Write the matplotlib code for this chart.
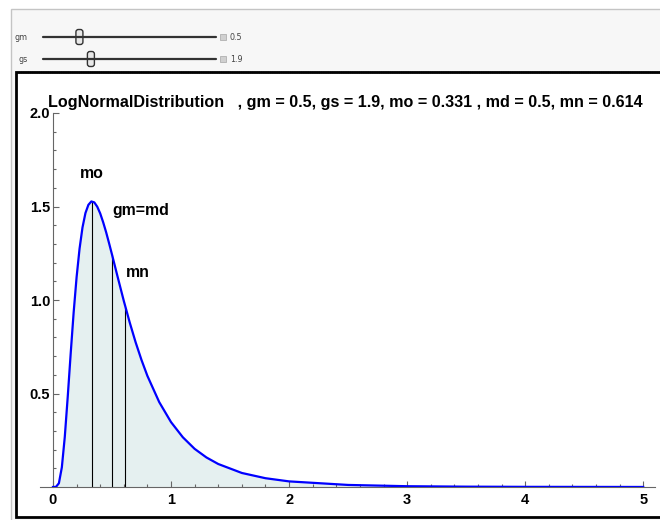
import matplotlib
matplotlib.use("Agg")
import matplotlib.pyplot as plt
from matplotlib.patches import Rectangle, FancyBboxPatch
from matplotlib.ticker import MultipleLocator, FixedLocator

plt.rcParams['font.family'] = ['Liberation Sans', 'DejaVu Sans']

# slider parameters
gm = 0.5
gs = 1.9
gm_range = (0.1, 2.0)
gs_range = (1.0, 4.25)

# summary statistics
mo = 0.331
md = 0.5
mn = 0.614

# density curve samples
xs = [0, 0.025, 0.05, 0.075, 0.1, 0.125, 0.15, 0.175, 0.2, 0.225, 0.25, 0.275,
      0.3, 0.325, 0.35, 0.375, 0.4, 0.425, 0.45, 0.475, 0.5, 0.55, 0.6, 0.65,
      0.7, 0.75, 0.8, 0.9, 1.0, 1.1, 1.2, 1.3, 1.4, 1.6, 1.8, 2.0, 2.5, 3.0,
      3.5, 4.0, 5.0]
ys = [0, 0.0005, 0.020, 0.105, 0.268, 0.483, 0.714, 0.933, 1.122, 1.274, 1.388, 1.465,
      1.509, 1.527, 1.522, 1.499, 1.463, 1.416, 1.363, 1.304, 1.243, 1.118, 0.995, 0.880,
      0.774, 0.679, 0.594, 0.454, 0.347, 0.266, 0.204, 0.158, 0.123, 0.075, 0.047, 0.030, 0.011, 0.0042,
      0.0018, 0.0008, 0.0002]

# density at mo, md, mn
marker_x = [mo, md, mn]
marker_y = [1.528, 1.243, 0.962]

W, H = 660, 520
fig = plt.figure(figsize=(W / 100, H / 100), dpi=100)

# panel background and slider controls, in pixel coordinates
bg = fig.add_axes([0, 0, 1, 1], zorder=0)
bg.set_xlim(0, W)
bg.set_ylim(H, 0)
bg.axis('off')
bg.add_patch(Rectangle((10.5, 8.5), 660, 520, facecolor='#f7f7f7', edgecolor='#c4c4c4', lw=1))
bg.add_patch(Rectangle((16, 72), 660, 445, facecolor='white', edgecolor='black', lw=2))
bg.plot([16, 660], [72, 72], color='black', lw=1, ls=(0, (1, 0.6)))


def slider(y, name, val, rng):
    x0, x1 = 43, 216
    bg.text(28, y, name, fontsize=5.8, color='#444444', ha='right', va='center', family='DejaVu Sans')
    bg.plot([x0, x1], [y, y], color='#333333', lw=1.6, solid_capstyle='round')
    tx = x0 + (val - rng[0]) / (rng[1] - rng[0]) * (x1 - x0)
    bg.add_patch(FancyBboxPatch((tx - 3.5, y - 7.5), 7, 15, boxstyle='round,pad=0,rounding_size=2.5',
                                facecolor='#e8e8e8', edgecolor='#333333', lw=1))
    bg.add_patch(Rectangle((220, y - 3), 6, 6, facecolor='#d0d0d0', edgecolor='#b0b0b0', lw=0.6))
    bg.text(230, y, str(val), fontsize=5.8, color='#444444', ha='left', va='center', family='DejaVu Sans')


slider(37, 'gm', gm, gm_range)
slider(59, 'gs', gs, gs_range)

bg.text(48, 102, f'LogNormalDistribution   , gm = {gm}, gs = {gs}, mo = {mo} , md = {md}, mn = {mn}',
        fontsize=11.6, fontweight='bold', ha='left', va='center')

# plot area
xmin, xmax = -0.11, 5.1
ax = fig.add_axes([40 / W, (H - 487) / H, 615 / W, 374 / H], zorder=1)
ax.set_facecolor('none')
ax.set_xlim(xmin, xmax)
ax.set_ylim(0, 2.0)

ax.fill_between(xs, ys, 0, color='#e5f0f0', lw=0, zorder=1)
ax.plot(xs, ys, color='#0000ff', lw=1.6, zorder=3)
ax.vlines(marker_x, 0, marker_y, colors='black', lw=0.8, zorder=2)

ax.text(mo, 1.675, 'mo', fontsize=11.4, fontweight='bold', ha='center', va='center')
ax.text(md, 1.48, 'gm=md', fontsize=11.4, fontweight='bold', ha='left', va='center')
ax.text(mn + 0.005, 1.145, 'mn', fontsize=11.4, fontweight='bold', ha='left', va='center')

for s in ['top', 'right']:
    ax.spines[s].set_visible(False)
ax.spines['left'].set_position(('data', 0))
ax.spines['left'].set_bounds(0, 2.0)
ax.spines['bottom'].set_position(('data', 0))
for s in ['left', 'bottom']:
    ax.spines[s].set_color('#666666')
    ax.spines[s].set_linewidth(0.8)

ax.xaxis.set_major_locator(FixedLocator([0, 1, 2, 3, 4, 5]))
ax.xaxis.set_minor_locator(MultipleLocator(0.2))
ax.yaxis.set_major_locator(FixedLocator([0.5, 1.0, 1.5, 2.0]))
ax.yaxis.set_minor_locator(FixedLocator([v / 10 for v in range(1, 20) if v % 5]))
ax.set_yticklabels(['0.5', '1.0', '1.5', '2.0'])
ax.tick_params(which='both', direction='in', color='#666666', width=0.8, labelsize=10.5)
ax.tick_params(axis='x', pad=4)
ax.tick_params(axis='y', pad=2)
ax.tick_params(which='major', length=4)
ax.tick_params(which='minor', length=2.5)
for lab in ax.get_xticklabels() + ax.get_yticklabels():
    lab.set_fontweight('bold')

fig.savefig('out.png', dpi=100)
